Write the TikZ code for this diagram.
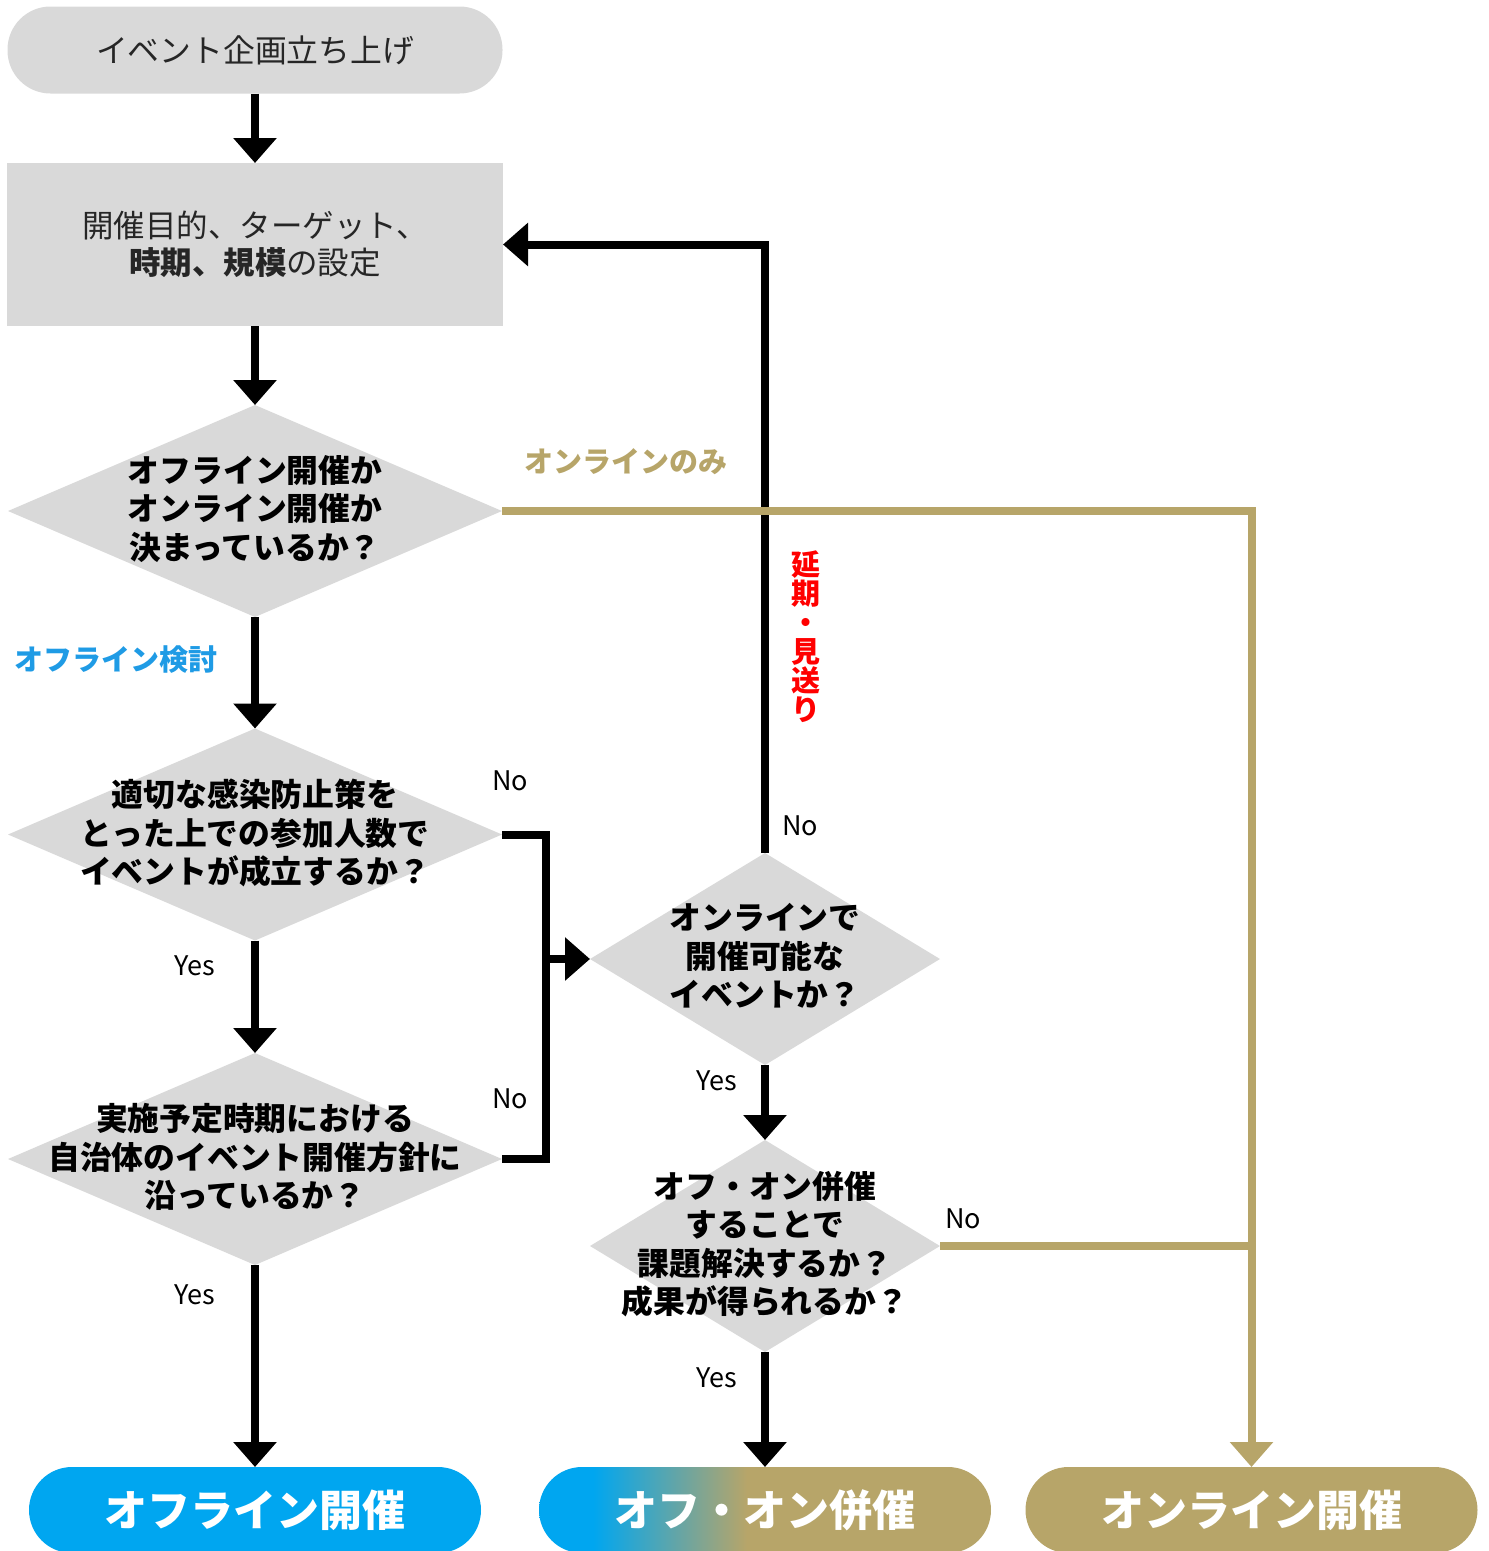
\documentclass[tikz,border=0pt]{standalone}
\usepackage{fontspec}
\setmainfont{Noto Sans CJK JP}
\usetikzlibrary{shapes.geometric,arrows.meta}
\definecolor{boxgray}{HTML}{D9D9D9}
\definecolor{offblue}{HTML}{00A6F0}
\definecolor{goldc}{HTML}{B7A569}
\definecolor{lblue}{HTML}{1F9BE5}
\definecolor{darktext}{HTML}{262626}
\pgfdeclarehorizontalshading{offon}{100bp}{color(0bp)=(offblue); color(31bp)=(offblue); color(48bp)=(goldc); color(100bp)=(goldc)}
\begin{document}
\begin{tikzpicture}[x=1pt,y=-1pt,
  term/.style={rectangle, rounded corners=43pt, fill=boxgray, minimum width=495pt, minimum height=87pt, inner sep=0pt, outer sep=0pt,
    font=\fontsize{31.8}{38}\selectfont, text=darktext},
  procbox/.style={rectangle, fill=boxgray, minimum width=496pt, minimum height=163pt, inner sep=0pt, outer sep=0pt, align=center,
    font=\fontsize{31.5}{37}\selectfont, text=darktext},
  dia/.style={diamond, fill=boxgray, minimum width=494pt, minimum height=212pt, inner sep=0pt, outer sep=0pt},
  sdia/.style={dia, minimum width=350pt},
  qtext/.style={font=\fontsize{31.8}{38.5}\selectfont\bfseries, align=center, text=black, inner sep=0pt},
  endnode/.style={rectangle, rounded corners=43pt, minimum width=452pt, minimum height=86pt, inner sep=0pt, outer sep=0pt,
    font=\fontsize{43}{50}\selectfont\bfseries, text=white},
  flow/.style={line width=8pt, draw=black, -{Triangle[length=25pt,width=42pt]}},
  goldflow/.style={line width=8pt, draw=goldc, -{Triangle[length=25pt,width=42pt,fill=goldc]}},
  goldline/.style={line width=8pt, draw=goldc},
  lab/.style={font=\fontsize{27}{30}\selectfont, text=black, inner sep=0pt},
  clab/.style={font=\fontsize{29}{29}\selectfont\bfseries, inner sep=0pt, align=center}
]
\useasboundingbox (0,0) rectangle (1489,1551);

% nodes
\node[term] (start) at (255,50) {イベント企画立ち上げ};
\node[procbox] (setup) at (255,244.5) {開催目的、ターゲット、\\\textbf{時期、規模}の設定};
\node[dia] (q1) at (255,511) {};
\node[qtext] (q1t) at (255,509) {オフライン開催か\\オンライン開催か\\決まっているか？};
\node[dia] (q2) at (255,834.5) {};
\node[qtext] (q2t) at (255,833) {適切な感染防止策を\\とった上での参加人数で\\イベントが成立するか？};
\node[dia] (q3) at (255,1159) {};
\node[qtext] (q3t) at (255,1157) {実施予定時期における\\自治体のイベント開催方針に\\沿っているか？};
\node[sdia] (q4) at (765,959) {};
\node[qtext] (q4t) at (765,956) {オンラインで\\開催可能な\\イベントか？};
\node[sdia] (q5) at (765,1246) {};
\node[qtext] (q5t) at (765,1244) {オフ・オン併催\\することで\\課題解決するか？\\成果が得られるか？};
\node[endnode, fill=offblue] (off) at (255,1510) {オフライン開催};
\node[endnode, shading=offon] (both) at (765,1510) {オフ・オン併催};
\node[endnode, fill=goldc] (on) at (1251.5,1510) {オンライン開催};

% black connectors
\draw[flow] (start) -- (setup);
\draw[flow] (setup) -- (q1);
\draw[flow] (q1) -- (q2);
\draw[flow] (q2) -- (q3);
\draw[flow] (q3.south) -- (off.north);
\draw[flow] (q4) -- (q5);
\draw[flow] (q5.south) -- (both.north);
\draw[flow] (q4.north) |- (setup.east);
\path (q2.east) ++(44,0) coordinate (bx);
\draw[line width=8pt] (q2.east) -- (bx) |- (q3.east);
\draw[flow] (bx |- q4.west) -- (q4.west);

% gold connectors
\draw[goldflow] (q1.east) -| (on.north);
\draw[goldline] (q5.east) -- (q5.east -| on.north);

% labels
\node[clab, text=goldc] (lonly) at (626,462) {オンラインのみ};
\node[clab, text=lblue] (loff) at (116,660) {オフライン検討};
\node[clab, text=red] (lpost) at (806,637) {延\\期\\・\\見\\送\\り};
\node[lab] (n1) at (510,781) {No};
\node[lab] (y1) at (195,966) {Yes};
\node[lab] (n2) at (510,1099) {No};
\node[lab] (y2) at (195,1295) {Yes};
\node[lab] (n3) at (800,826) {No};
\node[lab] (y3) at (717,1081) {Yes};
\node[lab] (n4) at (963,1219) {No};
\node[lab] (y4) at (717,1378) {Yes};
\end{tikzpicture}
\end{document}
